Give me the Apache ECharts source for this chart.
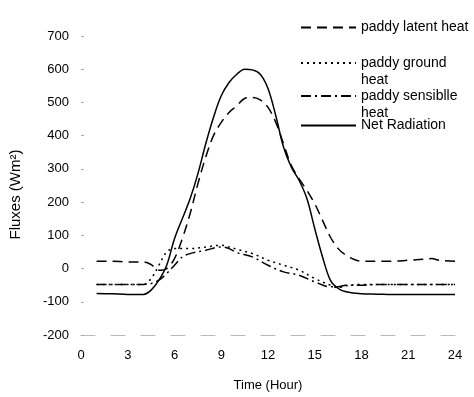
<!DOCTYPE html>
<html>
<head>
<meta charset="utf-8">
<script src="https://cdn.jsdelivr.net/npm/echarts@6/dist/echarts.min.js"></script>
<style>
  html, body { margin: 0; padding: 0; background: #fff; }
  #chart { width: 474px; height: 397px; }
</style>
</head>
<body>
<div id="chart"></div>
<script>
// Hour of day for each reading
const hoursNet = [1, 2, 3, 4, 4.5, 5, 5.5, 6, 6.5, 7, 7.5, 8, 8.5, 9, 9.5, 10, 10.5, 11, 11.5, 12, 12.5, 13, 13.5, 14, 14.5, 15, 15.5, 16, 16.5, 17, 18, 19, 20, 21, 22, 23, 24];
const netRadiation = [-75, -76, -78, -78, -65, -35, 10, 90, 150, 210, 285, 375, 455, 520, 560, 585, 600, 598, 585, 542, 460, 365, 305, 265, 210, 120, 35, -35, -60, -70, -76, -77, -78, -78, -78, -78, -78];

const hoursLatent = [1, 2, 3, 4, 4.5, 5, 5.5, 6, 6.5, 7, 7.5, 8, 8.5, 9, 9.5, 10, 10.5, 11, 11.5, 12, 12.5, 13, 13.5, 14, 14.5, 15, 15.5, 16, 16.5, 17, 17.5, 18, 19, 20, 21, 22, 22.5, 23, 24];
const latentHeat = [22, 22, 20, 20, 12, -5, 0, 30, 90, 165, 255, 335, 400, 440, 470, 490, 512, 515, 508, 485, 440, 375, 310, 270, 235, 195, 145, 95, 60, 40, 28, 22, 22, 22, 25, 28, 30, 25, 22];

const hoursFlux = [1, 2, 3, 4, 4.5, 5, 5.5, 6, 6.5, 7, 8, 9, 9.5, 10, 11, 12, 13, 14, 15, 16, 16.5, 17, 18, 19, 20, 21, 22, 23, 24];
const groundHeat = [-48, -48, -48, -48, -30, 10, 50, 60, 60, 60, 65, 70, 65, 58, 45, 25, 10, -5, -30, -50, -58, -52, -48, -48, -48, -48, -48, -48, -48];
const sensibleHeat = [-48, -48, -48, -48, -45, -35, -15, 10, 35, 45, 55, 65, 60, 48, 35, 10, -10, -20, -40, -55, -55, -50, -50, -48, -48, -48, -48, -48, -48];

// Axis ticks
const xTicks = [0, 3, 6, 9, 12, 15, 18, 21, 24];
const yTicks = [-200, -100, 0, 100, 200, 300, 400, 500, 600, 700];

const names = ['paddy latent heat', 'paddy ground heat', 'paddy sensiblle heat', 'Net Radiation'];

const pair = (xs, ys) => xs.map((x, i) => [x, ys[i]]);
const FONT = 'Liberation Sans, Arial, sans-serif';

const chart = echarts.init(document.getElementById('chart'), null, { renderer: 'canvas' });

// One legend block per series so each entry can sit at its own height;
// two-line names keep the key line level with their first line.
function legendFor(name, top, twoLine) {
  return {
    data: [name],
    left: 300,
    top: top,
    orient: 'vertical',
    itemWidth: 55,
    itemHeight: 10,
    padding: 0,
    selectedMode: false,
    itemStyle: { opacity: 0 },
    formatter: n => {
      if (!twoLine) return n;
      const cut = n.lastIndexOf(' ');
      return '{t|' + n.slice(0, cut) + '\n' + n.slice(cut + 1) + '}';
    },
    textStyle: {
      fontFamily: FONT, fontSize: 14, color: '#000', lineHeight: 17,
      rich: { t: { fontFamily: FONT, fontSize: 14, color: '#000', lineHeight: 17, padding: [17, 0, 0, 0] } }
    }
  };
}

const lineBase = { type: 'line', symbol: 'none', showSymbol: false, smooth: 0.35, z: 3 };

chart.setOption({
  animation: false,
  backgroundColor: '#fff',
  grid: { left: 80, right: 19, top: 36, bottom: 60 },
  legend: [
    legendFor(names[0], 19, false),
    legendFor(names[1], 39, true),
    legendFor(names[2], 72, true),
    legendFor(names[3], 117, false)
  ],
  xAxis: {
    type: 'value',
    min: xTicks[0],
    max: xTicks[xTicks.length - 1],
    interval: 3,
    name: 'Time (Hour)',
    nameLocation: 'middle',
    nameGap: 44,
    nameTextStyle: { fontFamily: FONT, fontSize: 13, color: '#000' },
    axisLine: { show: true, onZero: false, lineStyle: { color: '#b8b8b8', width: 1, type: [14, 16] } },
    axisTick: { show: false },
    splitLine: { show: false },
    axisLabel: { fontFamily: FONT, fontSize: 13, color: '#000', margin: 14 }
  },
  yAxis: {
    type: 'value',
    min: yTicks[0],
    max: yTicks[yTicks.length - 1],
    interval: 100,
    name: 'Fluxes (Wm²)',
    nameLocation: 'middle',
    nameGap: 58,
    nameRotate: 90,
    nameTextStyle: { fontFamily: FONT, fontSize: 15, color: '#000', padding: [0, 18, 0, 0] },
    axisLine: { show: false },
    axisTick: { show: true, inside: true, length: 3, lineStyle: { color: '#aaa' } },
    splitLine: { show: false },
    axisLabel: { fontFamily: FONT, fontSize: 13, color: '#000', margin: 12 }
  },
  series: [
    Object.assign({}, lineBase, {
      name: names[0],
      data: pair(hoursLatent, latentHeat),
      lineStyle: { color: '#000', width: 1.5, type: [10, 6] },
      itemStyle: { color: '#000' }
    }),
    Object.assign({}, lineBase, {
      name: names[1],
      data: pair(hoursFlux, groundHeat),
      lineStyle: { color: '#000', width: 1.5, type: [2, 4] },
      itemStyle: { color: '#000' }
    }),
    Object.assign({}, lineBase, {
      name: names[2],
      data: pair(hoursFlux, sensibleHeat),
      lineStyle: { color: '#000', width: 1.5, type: [10, 4, 2, 4] },
      itemStyle: { color: '#000' }
    }),
    Object.assign({}, lineBase, {
      name: names[3],
      data: pair(hoursNet, netRadiation),
      lineStyle: { color: '#000', width: 1.5, type: 'solid' },
      itemStyle: { color: '#000' }
    })
  ]
});
</script>
</body>
</html>
